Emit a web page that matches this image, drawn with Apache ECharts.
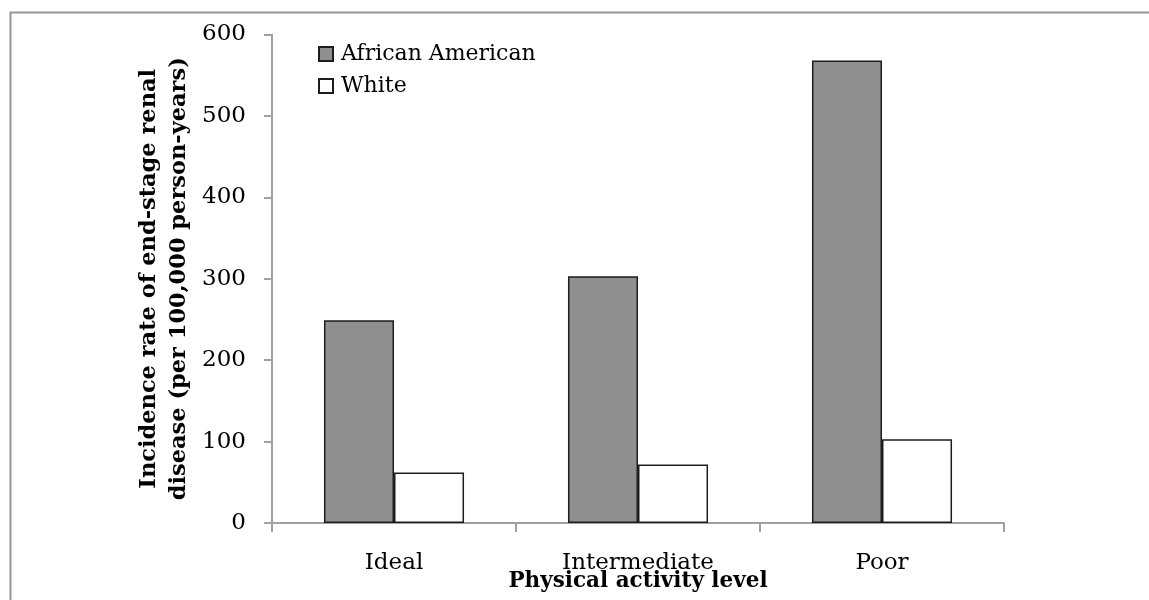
<!DOCTYPE html>
<html>
<head>
<meta charset="utf-8">
<script src="https://cdn.jsdelivr.net/npm/echarts@6/dist/echarts.min.js"></script>
<style>html,body{margin:0;padding:0;background:#fff;}#c{width:1149px;height:600px;}</style>
</head>
<body>
<div id="c"></div>
<script>
var categories = ['Ideal', 'Intermediate', 'Poor'];
var africanAmerican = [249, 303, 568];
var white = [62, 72, 103];
var yTicks = { min: 0, max: 600, interval: 100 };
var seriesNames = ['African American', 'White'];
var xTitle = 'Physical activity level';
var yTitle = 'Incidence rate of end-stage renal\ndisease (per 100,000 person-years)';

var FONT = 'DejaVu Serif';
var chart = echarts.init(document.getElementById('c'), null, { renderer: 'canvas' });
chart.setOption({
  backgroundColor: '#fff',
  animation: false,
  graphic: [{
    type: 'rect', left: 8, top: 10, z: -1,
    shape: { width: 1200, height: 620 },
    style: { fill: 'none', stroke: '#969696', lineWidth: 2 }
  }],
  grid: { left: 272, right: 145, top: 34.5, bottom: 77, containLabel: false, outerBoundsMode: 'none' },
  legend: {
    orient: 'vertical', left: 313, top: 38,
    icon: 'rect',
    itemWidth: 14, itemHeight: 14, itemGap: 10,
    textStyle: { fontFamily: FONT, fontSize: 22, color: '#000', padding: [0, 0, 0, 3] },
    data: seriesNames
  },
  xAxis: {
    type: 'category', data: categories,
    name: xTitle, nameLocation: 'middle', nameGap: 47, nameMoveOverlap: false,
    nameTextStyle: { fontFamily: FONT, fontSize: 21.5, fontWeight: 'bold', color: '#000' },
    axisLine: { lineStyle: { color: '#a0a0a0', width: 2 } },
    axisTick: { show: true, length: 9, lineStyle: { color: '#a0a0a0', width: 2 } },
    axisLabel: { margin: 29, fontFamily: FONT, fontSize: 23, color: '#000' }
  },
  yAxis: {
    type: 'value', min: yTicks.min, max: yTicks.max, interval: yTicks.interval,
    name: yTitle, nameLocation: 'middle', nameGap: 78, nameMoveOverlap: false,
    nameTextStyle: { fontFamily: FONT, fontSize: 22.5, fontWeight: 'bold', color: '#000', lineHeight: 30 },
    axisLine: { show: true, lineStyle: { color: '#a0a0a0', width: 2 } },
    axisTick: { show: true, length: 8, lineStyle: { color: '#a0a0a0', width: 2 } },
    splitLine: { show: false },
    axisLabel: { margin: 26, fontFamily: FONT, fontSize: 23, color: '#000' }
  },
  series: [
    { name: seriesNames[0], type: 'bar', data: africanAmerican, barGap: '0%', barCategoryGap: '42.6%',
      itemStyle: { color: '#8f8f8f', borderColor: '#1e1e1e', borderWidth: 1.5 } },
    { name: seriesNames[1], type: 'bar', data: white, barGap: '0%', barCategoryGap: '42.6%',
      itemStyle: { color: '#ffffff', borderColor: '#1e1e1e', borderWidth: 1.5 } }
  ]
});
</script>
</body>
</html>
